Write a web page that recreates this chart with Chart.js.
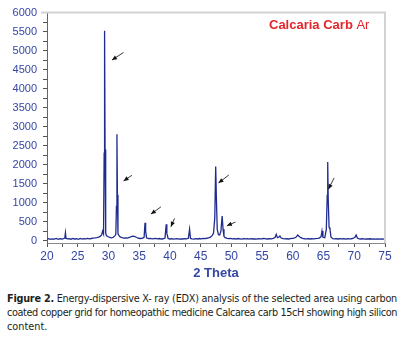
<!DOCTYPE html>
<html><head><meta charset="utf-8">
<script src="https://cdn.jsdelivr.net/npm/chart.js@4"></script>
<style>
html,body{margin:0;padding:0;background:#fff;width:409px;height:351px;overflow:hidden}
#wrap{position:absolute;left:0;top:0;width:409px;height:285px}
#cap{position:absolute;left:7px;top:292px;width:390px;font-family:"Liberation Sans Narrow","DejaVu Sans Condensed",sans-serif;font-size:10.8px;line-height:14px;color:#231f20}
#cap div{white-space:nowrap}
#cap span.ln{display:inline-block;white-space:nowrap}
</style></head>
<body>
<div id="wrap"><canvas id="c"></canvas></div>
<div id="cap">
<div><span class="ln fit"><b>Figure 2.</b> Energy-dispersive X- ray (EDX) analysis of the selected area using carbon</span></div>
<div><span class="ln fit">coated copper grid for homeopathic medicine Calcarea carb 15cH showing high silicon</span></div>
<div><span class="ln">content.</span></div>
</div>
<script>
const thetaValues = [
20.0,20.3,20.6,20.9,21.2,21.5,21.8,22.1,22.4,22.7,22.9,23.0,23.1,23.3,23.6,23.9,24.2,24.5,24.8,25.1,
25.4,25.7,26.0,26.3,26.6,26.9,27.2,27.5,27.8,28.1,28.4,28.7,28.9,29.05,29.2,29.3,29.37,29.45,29.55,29.7,
29.9,30.2,30.5,30.8,31.0,31.2,31.3,31.38,31.46,31.55,31.7,31.9,32.2,32.5,32.8,33.1,33.4,33.7,34.0,34.3,
34.6,34.9,35.2,35.5,35.8,35.95,36.05,36.2,36.5,36.8,37.1,37.4,37.7,38.0,38.3,38.6,38.9,39.2,39.4,39.5,
39.7,40.0,40.3,40.6,40.9,41.2,41.5,41.8,42.1,42.4,42.7,43.0,43.2,43.35,43.6,43.9,44.2,44.5,44.8,45.1,
45.4,45.7,46.0,46.3,46.6,46.9,47.1,47.3,47.45,47.55,47.7,47.9,48.1,48.3,48.5,48.65,48.8,49.0,49.3,49.6,
49.9,50.2,50.5,50.8,51.1,51.4,51.7,52.0,52.3,52.6,52.9,53.2,53.5,53.8,54.1,54.4,54.7,55.0,55.3,55.6,
55.9,56.2,56.5,56.8,57.1,57.3,57.5,57.7,57.9,58.1,58.4,58.7,59.0,59.3,59.6,59.9,60.2,60.5,60.8,61.0,
61.3,61.6,61.9,62.2,62.5,62.8,63.1,63.4,63.7,64.0,64.3,64.6,64.75,64.9,65.2,65.45,65.6,65.68,65.76,65.9,
66.05,66.2,66.5,66.8,67.1,67.4,67.7,68.0,68.3,68.6,68.9,69.2,69.5,69.8,70.1,70.3,70.5,70.8,71.1,71.4,
71.7,72.0,72.3,72.6,72.9,73.2,73.5,73.8,74.1,74.4,74.7,75.0];
const intensityValues = [
40,55,35,50,42,60,38,52,45,58,70,210,65,48,55,40,58,45,52,38,
60,44,55,48,62,50,58,66,72,80,95,120,160,250,180,2300,5520,2400,200,130,
110,85,75,90,120,160,900,2800,1200,180,140,100,80,70,75,68,85,105,120,110,
85,65,58,62,90,470,250,75,55,60,48,55,62,50,58,45,52,70,430,200,
60,45,52,40,48,55,42,50,45,55,48,65,300,60,50,42,55,46,58,50,
62,55,65,75,95,140,200,600,1950,1200,300,160,150,250,650,300,110,80,62,55,
60,48,55,45,58,50,42,55,48,52,40,55,45,50,42,55,48,52,60,50,
45,55,48,60,85,170,80,90,125,70,55,48,52,45,55,62,70,90,150,120,
80,60,52,48,55,45,52,48,55,60,70,110,255,90,80,300,1200,2070,1100,350,
300,100,55,48,52,45,55,48,52,42,55,48,52,60,90,150,70,50,45,52,
40,50,45,52,42,48,40,50,44,48,40,45];
const xTickValues = [20,22.5,25,27.5,30,32.5,35,37.5,40,42.5,45,47.5,50,52.5,55,57.5,60,62.5,65,67.5,70,72.5,75];
const yTickValues = [0,250,500,750,1000,1250,1500,1750,2000,2250,2500,2750,3000,3250,3500,3750,4000,4250,4500,4750,5000,5250,5500,5750,6000];
// arrow annotations in data units: tail (x,y) -> head (x,y)
const arrowTailX = [32.46,33.82,38.54,40.75,49.59,50.67,66.72];
const arrowTailY = [4952,1721,891,587,1729,490,1651];
const arrowHeadX = [30.57,32.46,36.91,40.16,47.90,49.27,65.79];
const arrowHeadY = [4753,1572,700,367,1520,393,1355];

// fit caption lines to the full caption width (justified look)
document.querySelectorAll('#cap .fit').forEach(el => {
  const target = 390;
  const w = el.getBoundingClientRect().width;
  const n = el.textContent.length;
  el.style.letterSpacing = ((target - w) / n) + 'px';
});

const FAM = '"Liberation Sans", Arial, sans-serif';
const BLUE = '#3446a6';

const decor = {
  id: 'decor',
  afterDraw(chart) {
    const {ctx, chartArea: a, scales: {x, y}} = chart;
    ctx.save();
    ctx.strokeStyle = '#d2d2d2';
    ctx.lineWidth = 2;
    ctx.beginPath();
    ctx.moveTo(a.left - 6, a.top);
    ctx.lineTo(a.right, a.top);
    ctx.lineTo(a.right, a.bottom);
    ctx.stroke();
    ctx.strokeStyle = '#222';
    ctx.fillStyle = '#111';
    ctx.lineWidth = 0.9;
    for (let i = 0; i < arrowTailX.length; i++) {
      const x1 = x.getPixelForValue(arrowTailX[i]), y1 = y.getPixelForValue(arrowTailY[i]);
      const x2 = x.getPixelForValue(arrowHeadX[i]), y2 = y.getPixelForValue(arrowHeadY[i]);
      const ang = Math.atan2(y2 - y1, x2 - x1);
      ctx.beginPath(); ctx.moveTo(x1, y1); ctx.lineTo(x2, y2); ctx.stroke();
      const L = 5, W = 2.2;
      ctx.beginPath();
      ctx.moveTo(x2, y2);
      ctx.lineTo(x2 - L * Math.cos(ang) + W * Math.sin(ang), y2 - L * Math.sin(ang) - W * Math.cos(ang));
      ctx.lineTo(x2 - L * Math.cos(ang) - W * Math.sin(ang), y2 - L * Math.sin(ang) + W * Math.cos(ang));
      ctx.closePath(); ctx.fill();
    }
    ctx.fillStyle = '#e3262b';
    ctx.textBaseline = 'alphabetic';
    ctx.textAlign = 'left';
    ctx.font = 'bold 13px ' + FAM;
    const lx = 269, ly = 28.5;
    ctx.fillText('Calcaria Carb', lx, ly);
    const w = ctx.measureText('Calcaria Carb').width;
    ctx.font = '13px ' + FAM;
    ctx.fillText(' Ar', lx + w, ly);
    ctx.restore();
  }
};

new Chart(document.getElementById('c'), {
  type: 'line',
  data: {
    datasets: [{
      label: 'Calcaria Carb Ar',
      data: thetaValues.map((t, i) => ({x: t, y: intensityValues[i]})),
      borderColor: '#1f2b8f',
      borderWidth: 1.3,
      pointRadius: 0,
      tension: 0,
      fill: false
    }]
  },
  options: {
    responsive: true,
    maintainAspectRatio: false,
    animation: false,
    devicePixelRatio: 1,
    layout: {padding: {top: 11, right: 24, left: 0, bottom: 0}},
    plugins: {legend: {display: false}, tooltip: {enabled: false}},
    scales: {
      x: {
        type: 'linear', min: 20, max: 75,
        afterBuildTicks: s => { s.ticks = xTickValues.map(v => ({value: v})); },
        afterFit: s => { s.height = 42; },
        ticks: {autoSkip: false, maxRotation: 0, color: BLUE, font: {size: 12, family: FAM}, padding: 2,
          callback: v => (v % 5 === 0 ? String(v) : '')},
        grid: {drawOnChartArea: false, drawTicks: true, tickLength: 4, color: '#555'},
        border: {display: true, color: '#8a8a8a', width: 1},
        title: {display: true, text: '2 Theta', color: BLUE, font: {size: 13, weight: 'bold', family: FAM}, padding: {top: 2, bottom: 4}}
      },
      y: {
        type: 'linear', min: -60, max: 6000,
        afterBuildTicks: s => { s.ticks = yTickValues.map(v => ({value: v})); },
        afterFit: s => { s.width = 47; },
        ticks: {autoSkip: false, color: BLUE, font: {size: 11, family: FAM}, padding: 6,
          callback: v => (v % 500 === 0 ? String(v) : '')},
        grid: {drawOnChartArea: false, drawTicks: true, tickLength: 4, color: '#555'},
        border: {display: true, color: '#666', width: 1}
      }
    }
  },
  plugins: [decor]
});
</script>
</body></html>
